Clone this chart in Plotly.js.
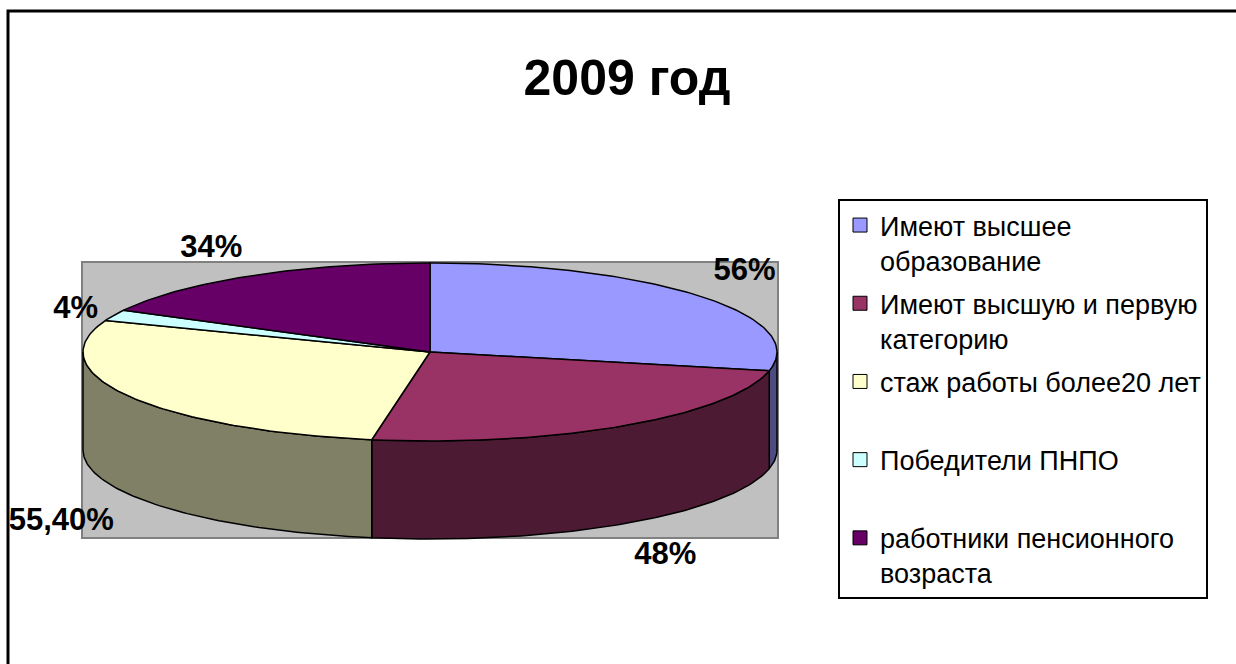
<!DOCTYPE html>
<html>
<head>
    <meta charset="utf-8">
    <title>2009 год</title>
    <style>
        html, body, #plot {
            height: 100%;
            width: 100%;
            margin: 0;
            padding: 0;
            overflow: hidden;
            background: #ffffff;
        }
    </style>
    <script src="https://cdn.plot.ly/plotly-3.0.1.min.js"></script>
</head>

<body>
<div id="plot"></div>
<script>
    // data
    const categories = [
        'Имеют высшее<br>образование',
        'Имеют высшую и первую<br>категорию',
        'стаж работы более20 лет<br>\u00a0',
        'Победители ПНПО<br>\u00a0',
        'работники пенсионного<br>возраста'
    ];
    const values = [56, 48, 55.4, 4, 34];
    const valueLabels = ['56%', '48%', '55,40%', '4%', '34%'];
    const topColors = ['#9999FF', '#993366', '#FFFFCC', '#CCFFFF', '#660066'];
    const sideColors = ['#4C4C80', '#4D1A33', '#808066', '#668080', '#330033'];

    // geometry of the tilted pie (pixel units on the hidden axes)
    const CX = 430, CY = 352, RX = 347, RY = 89, DEPTH = 98;
    const W = 1236, H = 664;

    function px(deg, rx) { return CX + rx * Math.sin(deg * Math.PI / 180); }
    function py(deg, ry, cy) { return cy - ry * Math.cos(deg * Math.PI / 180); }

    function arc(a0, a1, cy) {
        const xs = [], ys = [];
        const n = Math.max(2, Math.ceil(Math.abs(a1 - a0)));
        for (let k = 0; k <= n; k++) {
            const a = a0 + (a1 - a0) * k / n;
            xs.push(px(a, RX));
            ys.push(py(a, RY, cy));
        }
        return {xs: xs, ys: ys};
    }

    function buildPlot() {
        const total = values.reduce((s, v) => s + v, 0);
        const starts = [], ends = [];
        let acc = 0;
        values.forEach(function (v) {
            starts.push(acc / total * 360);
            acc += v;
            ends.push(acc / total * 360);
        });

        const sides = [], tops = [], legendTraces = [];

        values.forEach(function (v, i) {
            // visible wall: front half of the cylinder (90..270 deg)
            const lo = Math.max(starts[i], 90), hi = Math.min(ends[i], 270);
            if (lo < hi) {
                const upper = arc(lo, hi, CY);
                const lower = arc(hi, lo, CY + DEPTH);
                sides.push({
                    x: upper.xs.concat(lower.xs, [upper.xs[0]]),
                    y: upper.ys.concat(lower.ys, [upper.ys[0]]),
                    type: 'scatter',
                    mode: 'lines',
                    fill: 'toself',
                    fillcolor: sideColors[i],
                    line: {color: '#000000', width: 1.5},
                    showlegend: false,
                    hoverinfo: 'skip'
                });
            }

            const a = arc(starts[i], ends[i], CY);
            tops.push({
                x: [CX].concat(a.xs, [CX]),
                y: [CY].concat(a.ys, [CY]),
                type: 'scatter',
                mode: 'lines',
                fill: 'toself',
                fillcolor: topColors[i],
                line: {color: '#000000', width: 1.5},
                showlegend: false,
                name: valueLabels[i],
                hoverinfo: 'name'
            });

            legendTraces.push({
                x: [null],
                y: [null],
                type: 'scatter',
                mode: 'markers',
                name: categories[i],
                legendgroup: 'g' + i,
                marker: {
                    symbol: 'square',
                    size: 14,
                    color: topColors[i],
                    line: {color: '#000000', width: 1}
                }
            });
        });

        // percentage labels sit just outside the rim, on the side facing away
        const lx = [], ly = [], lpos = [];
        values.forEach(function (v, i) {
            const mid = (starts[i] + ends[i]) / 2;
            const s = Math.sin(mid * Math.PI / 180), c = Math.cos(mid * Math.PI / 180);
            const front = c < 0;
            lx.push(px(mid, RX * 1.05));
            ly.push(py(mid, RY * 1.15, front ? CY + DEPTH : CY) + (front ? 6 : 0));
            const vert = c > 0.45 ? 'top' : (c < -0.45 ? 'bottom' : 'middle');
            lpos.push(vert + ' ' + (s >= 0 ? 'right' : 'left'));
        });
        const labelTrace = {
            x: lx,
            y: ly,
            type: 'scatter',
            mode: 'text',
            text: valueLabels,
            textposition: lpos,
            textfont: {family: 'Liberation Sans, Arial, sans-serif', size: 31, weight: 'bold', color: '#000000'},
            showlegend: false,
            hoverinfo: 'skip'
        };

        const data = sides.concat(tops, [labelTrace], legendTraces);

        const layout = {
            width: W,
            height: H,
            margin: {l: 0, r: 0, t: 0, b: 0, pad: 0},
            paper_bgcolor: '#ffffff',
            plot_bgcolor: 'rgba(0,0,0,0)',
            font: {family: 'Liberation Sans, Arial, sans-serif', color: '#000000'},
            title: {
                text: '2009 год',
                font: {family: 'Liberation Sans, Arial, sans-serif', size: 50, weight: 'bold', color: '#000000'},
                x: 627 / W,
                xanchor: 'center',
                y: 1 - 77 / H,
                yanchor: 'middle'
            },
            xaxis: {range: [0, W], visible: false, fixedrange: true},
            yaxis: {range: [H, 0], visible: false, fixedrange: true},
            shapes: [
                // outer chart frame
                {type: 'rect', xref: 'x', yref: 'y', x0: 8, x1: W + 10, y0: 11, y1: H + 10,
                    line: {color: '#000000', width: 3}, layer: 'below'},
                // grey plot area
                {type: 'rect', xref: 'x', yref: 'y', x0: 82, x1: 778, y0: 262, y1: 538,
                    fillcolor: '#C0C0C0', line: {color: '#808080', width: 2}, layer: 'below'}
            ],
            legend: {
                x: 838 / W,
                y: 1 - 199 / H,
                xanchor: 'left',
                yanchor: 'top',
                orientation: 'v',
                valign: 'top',
                traceorder: 'grouped',
                tracegroupgap: 5,
                bgcolor: '#ffffff',
                bordercolor: '#000000',
                borderwidth: 2,
                font: {family: 'Liberation Sans, Arial, sans-serif', size: 27, color: '#000000'}
            },
            hovermode: 'closest'
        };

        Plotly.newPlot('plot', data, layout, {displayModeBar: false});
    }

    document.addEventListener('DOMContentLoaded', buildPlot);
</script>
</body>
</html>
